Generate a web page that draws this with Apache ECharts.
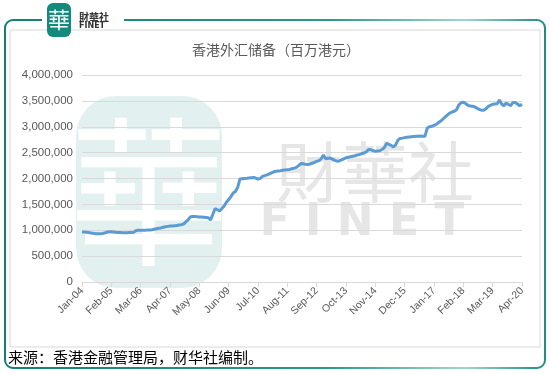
<!DOCTYPE html>
<html><head><meta charset="utf-8">
<script src="https://cdn.jsdelivr.net/npm/echarts@6/dist/echarts.min.js"></script>
<style>html,body{margin:0;padding:0;background:#fff}#c{width:550px;height:374px}</style>
</head><body><div id="c"></div>
<script>
// Tick labels on the y axis
var yTicks = [0, 500000, 1000000, 1500000, 2000000, 2500000, 3000000, 3500000, 4000000];
// Month categories Jan-04 .. Apr-20
var monthNames = ['Jan','Feb','Mar','Apr','May','Jun','Jul','Aug','Sep','Oct','Nov','Dec'];
var categories = [];
for (var yr = 2004; yr <= 2020; yr++) {
  for (var m = 0; m < 12; m++) {
    if (yr === 2020 && m > 3) break;
    categories.push(monthNames[m] + '-' + String(yr).slice(2));
  }
}
// Reserves, HKD million, by year
var v2004 = [966000, 967000, 963000, 955000, 948000, 940000, 934000, 932000, 933000, 938000, 948000, 960000];
var v2005 = [970000, 972000, 968000, 962000, 958000, 955000, 952000, 950000, 952000, 955000, 958000, 963000];
var v2006 = [995000, 1000000, 998000, 1000000, 1002000, 1003000, 1004000, 1010000, 1020000, 1030000, 1038000, 1045000];
var v2007 = [1058000, 1068000, 1075000, 1080000, 1084000, 1088000, 1092000, 1100000, 1108000, 1120000, 1160000, 1200000];
var v2008 = [1255000, 1268000, 1266000, 1262000, 1258000, 1255000, 1250000, 1245000, 1240000, 1200000, 1310000, 1420000];
var v2009 = [1395000, 1375000, 1420000, 1470000, 1540000, 1595000, 1650000, 1720000, 1750000, 1830000, 1990000, 1995000];
var v2010 = [2000000, 2005000, 2012000, 2015000, 2018000, 2008000, 1990000, 2000000, 2040000, 2055000, 2070000, 2090000];
var v2011 = [2110000, 2130000, 2140000, 2145000, 2150000, 2160000, 2165000, 2170000, 2175000, 2190000, 2200000, 2215000];
var v2012 = [2250000, 2290000, 2285000, 2275000, 2270000, 2280000, 2295000, 2310000, 2330000, 2345000, 2380000, 2455000];
var v2013 = [2380000, 2390000, 2395000, 2375000, 2350000, 2335000, 2340000, 2360000, 2380000, 2400000, 2410000, 2420000];
var v2014 = [2430000, 2440000, 2455000, 2465000, 2480000, 2495000, 2515000, 2560000, 2555000, 2540000, 2525000, 2530000];
var v2015 = [2535000, 2560000, 2600000, 2680000, 2660000, 2640000, 2610000, 2650000, 2740000, 2775000, 2780000, 2790000];
var v2016 = [2795000, 2800000, 2805000, 2810000, 2815000, 2818000, 2820000, 2815000, 2818000, 2975000, 3000000, 3010000];
var v2017 = [3025000, 3045000, 3080000, 3110000, 3150000, 3190000, 3230000, 3265000, 3285000, 3300000, 3330000, 3420000];
var v2018 = [3465000, 3475000, 3450000, 3415000, 3400000, 3395000, 3385000, 3360000, 3335000, 3320000, 3320000, 3345000];
var v2019 = [3390000, 3415000, 3435000, 3440000, 3445000, 3515000, 3440000, 3405000, 3460000, 3430000, 3410000, 3470000];
var v2020 = [3470000, 3440000, 3405000, 3435000];
var reserves = [].concat(v2004, v2005, v2006, v2007, v2008, v2009, v2010, v2011, v2012, v2013, v2014, v2015, v2016, v2017, v2018, v2019, v2020);

var title = '香港外汇储备（百万港元）';
var source = '来源：香港金融管理局，财华社编制。';

var chart = echarts.init(document.getElementById('c'), null, {renderer: 'canvas'});
var font = '"Liberation Sans", Arial, sans-serif';
chart.setOption({
  animation: false,
  backgroundColor: '#ffffff',
  title: {
    text: title, left: 271, top: 38, textAlign: 'center',
    textStyle: {fontSize: 14, fontWeight: 'normal', color: '#595959', fontFamily: '"Noto Sans CJK SC", sans-serif'}
  },
  grid: {left: 82, right: 28, top: 75, bottom: 92, containLabel: false},
  xAxis: {
    type: 'category', data: categories, boundaryGap: false,
    axisLine: {lineStyle: {color: '#d9d9d9', width: 1}},
    axisTick: {show: true, interval: 12, length: 5, lineStyle: {color: '#d9d9d9'}},
    axisLabel: {interval: 12, rotate: 45, color: '#595959', fontSize: 10.5, fontFamily: font, margin: 7},
    splitLine: {show: false}
  },
  yAxis: {
    type: 'value', min: 0, max: 4000000, interval: 500000,
    axisLine: {show: false}, axisTick: {show: false},
    axisLabel: {color: '#595959', fontSize: 11.5, fontFamily: font, margin: 9,
      formatter: function (v) { return v.toLocaleString('en-US'); }},
    splitLine: {lineStyle: {color: '#d9d9d9', width: 1}}
  },
  series: [{
    type: 'line', data: reserves, showSymbol: false, symbol: 'none',
    lineStyle: {color: '#5b9bd5', width: 3}, z: 5
  }],
  graphic: [
    {type: 'rect', z: -20, silent: true, shape: {x: 5, y: 20, width: 540, height: 348, r: 8},
      style: {fill: '#ffffff', stroke: {type: 'linear', x: 0, y: 0, x2: 1, y2: 0, colorStops: [
        {offset: 0, color: '#157f73'}, {offset: 0.6, color: '#2a9a8c'}, {offset: 0.85, color: '#9fd6ce'}, {offset: 1, color: '#1d8d80'}]}, lineWidth: 2}},
    {type: 'rect', z: -19, silent: true, shape: {x: 10, y: 30, width: 530, height: 317},
      style: {fill: '#ffffff', stroke: '#d9d9d9', lineWidth: 1}},
    {type: 'rect', z: -18, silent: true, shape: {x: 42, y: 14, width: 82, height: 12}, style: {fill: '#ffffff'}},
    {type: 'rect', z: -17, silent: true, shape: {x: 47, y: 3, width: 24, height: 34, r: 6}, style: {fill: '#138a7c'}},
    {type: 'text', z: -16, silent: true, style: {text: '華', x: 59, y: 20, align: 'center', verticalAlign: 'middle',
      fill: '#ffffff', font: '22px "Noto Sans CJK TC", serif'}},
    {type: 'text', z: -16, silent: true, style: {text: '財華社', x: 79, y: 17, verticalAlign: 'middle',
      fill: '#333333', font: 'bold 10px "Noto Sans CJK TC", sans-serif'}},
    {type: 'text', z: -16, silent: true, style: {text: 'FINET', x: 79, y: 26, verticalAlign: 'middle',
      fill: '#333333', font: 'bold 8px "DejaVu Sans", sans-serif'}},
    {type: 'rect', z: -15, silent: true, shape: {x: 76, y: 96, width: 146, height: 192, r: 40}, style: {fill: '#e2f1ef'}},
    {type: 'text', z: -14, silent: true, style: {text: '華', x: 149, y: 192, align: 'center', verticalAlign: 'middle',
      fill: '#ffffff', font: '160px "Noto Sans CJK TC", serif'}},
    {type: 'text', z: -14, silent: true, style: {text: '財華社', x: 375, y: 172, align: 'center', verticalAlign: 'middle',
      fill: '#e6e6e6', font: '66px "Noto Sans CJK TC", sans-serif'}},
    {type: 'text', z: -14, silent: true, style: {text: 'F I N E T', x: 362, y: 224, align: 'center', verticalAlign: 'middle',
      fill: '#e6e6e6', font: 'bold 44px "DejaVu Sans", sans-serif'}},
    {type: 'text', z: 10, silent: true, style: {text: source, x: 8, y: 357, verticalAlign: 'middle',
      fill: '#000000', font: '15px "Noto Sans CJK SC", sans-serif'}}
  ]
});
</script></body></html>
